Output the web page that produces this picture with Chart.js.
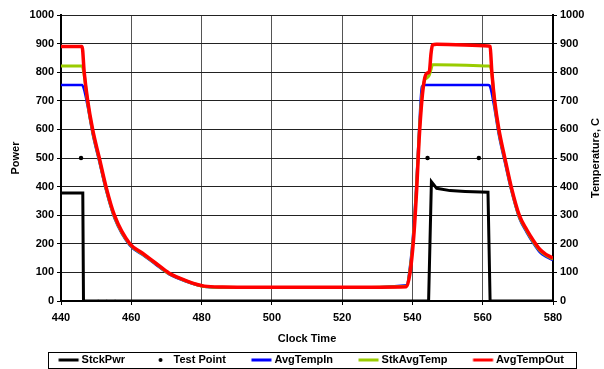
<!DOCTYPE html>
<html>
<head>
<meta charset="utf-8">
<script src="https://cdn.jsdelivr.net/npm/chart.js@4/dist/chart.umd.min.js"></script>
<style>
  html, body { margin: 0; padding: 0; background: #fff; }
  #wrap { width: 604px; height: 369px; }
</style>
</head>
<body>
<div id="wrap"><canvas id="stackChart" width="604" height="369"></canvas></div>
<script>
// stack power (left axis)
const powerTime = [440, 446.2, 446.4, 544.6, 545.4, 546.9, 550.7, 555, 561.5, 562.1, 580];
const powerVals = [378, 378, 0, 0, 417, 394, 386, 383, 380, 0, 0];

// test points
const testTime = [445.7, 450.6, 453, 455.4, 544.3, 558.9];
const testVals = [500, 0, 0, 0, 500, 500];

// temperatures (right axis), all sampled on the same clock times
const tempTime = [440, 446.0, 446.6, 447.6, 449.0, 450.9, 452.8, 455.2, 459.6, 463.2, 467.0, 470.8,
  475.6, 480.8, 486, 500, 520, 538.3, 539.3, 540.3, 541.2, 541.9, 542.7, 543.4, 544.1, 544.8, 545.3,
  545.7, 546.9, 561.6, 562.1, 562.6, 563.4, 564.6, 566.3, 568.1, 570.4, 572.5, 574.5, 576.3, 578, 580];
const tempIn = [755, 755, 738, 680, 585, 487, 388, 290, 194, 162, 127, 93,
  68, 50, 47, 46, 46, 55, 120, 250, 430, 600, 750, 755, 755, 755, 755,
  755, 755, 755, 750, 725, 670, 580, 485, 388, 290, 240, 200, 170, 155, 143];
const stkAvgTemp = [822, 822, 790, 692, 593, 494, 394, 295, 197, 164, 130, 95,
  70, 51, 48, 47, 47, 52, 108, 230, 410, 580, 720, 770, 780, 790, 810,
  826, 826, 822, 820, 795, 690, 592, 494, 395, 295, 246, 205, 176, 160, 147];
const tempOut = [890, 890, 800, 700, 600, 500, 400, 300, 200, 167, 132, 97,
  71, 52, 49, 48, 48, 50, 97, 213, 388, 563, 703, 773, 796, 802, 866,
  895, 898, 892, 890, 800, 700, 600, 500, 400, 300, 250, 210, 180, 163, 150];

const yTicks = [0, 100, 200, 300, 400, 500, 600, 700, 800, 900, 1000];
const xTicks = [440, 460, 480, 500, 520, 540, 560, 580];

const FONT = "'Liberation Sans', Arial, sans-serif";
const boldFont = { family: FONT, size: 11, weight: 'bold' };

const toPoints = (xs, ys) => xs.map((x, i) => ({ x: x, y: ys[i] }));

// legend swatches: a short line (or a dot) sitting right next to the label
function legendMark(color, dot) {
  const c = document.createElement('canvas');
  c.width = 44;
  c.height = 8;
  const g = c.getContext('2d');
  g.fillStyle = color;
  if (dot) {
    g.beginPath();
    g.arc(32.5, 4, 2, 0, Math.PI * 2);
    g.fill();
  } else {
    g.fillRect(22.5, 2.5, 20, 3);
  }
  return c;
}

const legendMarks = [
  legendMark('#000000', false),
  legendMark('#000000', true),
  legendMark('#0000ff', false),
  legendMark('#99cc00', false),
  legendMark('#ff0000', false)
];

// box round the legend row
const legendFrame = {
  id: 'legendFrame',
  afterDraw(chart) {
    const boxes = chart.legend && chart.legend.legendHitBoxes;
    if (!boxes || !boxes.length) return;
    const first = boxes[0];
    const last = boxes[boxes.length - 1];
    const left = Math.round(first.left + 8) + 0.5;
    const right = Math.round(last.left + last.width + 12) + 0.5;
    const top = Math.round(first.top - 2.5) + 0.5;
    const bottom = Math.round(first.top + 13.5) + 0.5;
    const ctx = chart.ctx;
    ctx.save();
    ctx.strokeStyle = '#000';
    ctx.lineWidth = 1;
    ctx.strokeRect(left, top, right - left, bottom - top);
    ctx.restore();
  }
};

// right axis title, reading bottom to top like the left one
const rightTitle = {
  id: 'rightTitle',
  afterDraw(chart) {
    const scale = chart.scales.y2;
    const area = chart.chartArea;
    const ctx = chart.ctx;
    ctx.save();
    ctx.translate(scale.right - 8, (area.top + area.bottom) / 2);
    ctx.rotate(-Math.PI / 2);
    ctx.font = 'bold 11px ' + FONT;
    ctx.fillStyle = '#000';
    ctx.textAlign = 'center';
    ctx.textBaseline = 'middle';
    ctx.fillText('Temperature, C', 0, 0);
    ctx.restore();
  }
};

const valueAxis = (position, title, width, onChart) => ({
  type: 'linear',
  position: position,
  min: 0,
  max: 1000,
  afterBuildTicks(scale) { scale.ticks = yTicks.map(v => ({ value: v })); },
  ticks: { color: '#000', font: boldFont, padding: 3, callback: v => String(v) },
  grid: { drawOnChartArea: onChart, color: '#222', tickColor: '#000', tickLength: 4, lineWidth: 1 },
  border: { color: '#000', width: 2 },
  title: { display: !!title, text: title, color: '#000', font: boldFont, padding: { top: 9, bottom: 0 } },
  afterFit(scale) { scale.width = width; }
});

const tempLine = (label, data, color, width, order) => ({
  label: label,
  data: data,
  borderColor: color,
  backgroundColor: color,
  borderWidth: width,
  pointRadius: 0,
  cubicInterpolationMode: 'monotone',
  yAxisID: 'y2',
  order: order
});

new Chart(document.getElementById('stackChart'), {
  type: 'line',
  data: {
    datasets: [
      {
        label: 'StckPwr',
        data: toPoints(powerTime, powerVals),
        borderColor: '#000',
        backgroundColor: '#000',
        borderWidth: 3,
        pointRadius: 0,
        yAxisID: 'y',
        order: 1
      },
      {
        label: 'Test Point',
        data: toPoints(testTime, testVals),
        showLine: false,
        borderColor: '#000',
        backgroundColor: '#000',
        pointBackgroundColor: '#000',
        pointBorderWidth: 0,
        pointRadius: ctx => (ctx.raw && ctx.raw.y === 0 ? 1.3 : 2.2),
        yAxisID: 'y',
        order: 0
      },
      tempLine('AvgTempIn', toPoints(tempTime, tempIn), '#0000ff', 2.5, 4),
      tempLine('StkAvgTemp', toPoints(tempTime, stkAvgTemp), '#99cc00', 3, 3),
      tempLine('AvgTempOut', toPoints(tempTime, tempOut), '#ff0000', 3.5, 2)
    ]
  },
  options: {
    responsive: false,
    animation: false,
    devicePixelRatio: 1,
    elements: { line: { tension: 0 } },
    layout: { padding: { top: 15, right: 0, bottom: -6.5, left: 0 } },
    plugins: {
      tooltip: { enabled: false },
      legend: {
        position: 'bottom',
        labels: {
          color: '#000',
          font: boldFont,
          usePointStyle: true,
          pointStyleWidth: 36,
          padding: 7,
          sort: (a, b) => a.datasetIndex - b.datasetIndex,
          generateLabels(chart) {
            const items = Chart.defaults.plugins.legend.labels.generateLabels(chart);
            items.forEach(it => { it.pointStyle = legendMarks[it.datasetIndex]; });
            return items;
          }
        }
      }
    },
    scales: {
      x: {
        type: 'linear',
        min: 440,
        max: 580,
        afterBuildTicks(scale) { scale.ticks = xTicks.map(v => ({ value: v })); },
        ticks: { color: '#000', font: boldFont, padding: 6, maxRotation: 0, callback: v => String(v) },
        grid: { color: '#555', tickColor: '#000', tickLength: 4, lineWidth: 1 },
        border: { color: '#000', width: 2 },
        title: { display: true, text: 'Clock Time', color: '#000', font: boldFont, padding: { top: 0, bottom: 2 } },
        afterFit(scale) { scale.height = 46.5; }
      },
      y: valueAxis('left', 'Power', 61, true),
      y2: valueAxis('right', '', 51, false)
    }
  },
  plugins: [legendFrame, rightTitle]
});
</script>
</body>
</html>
